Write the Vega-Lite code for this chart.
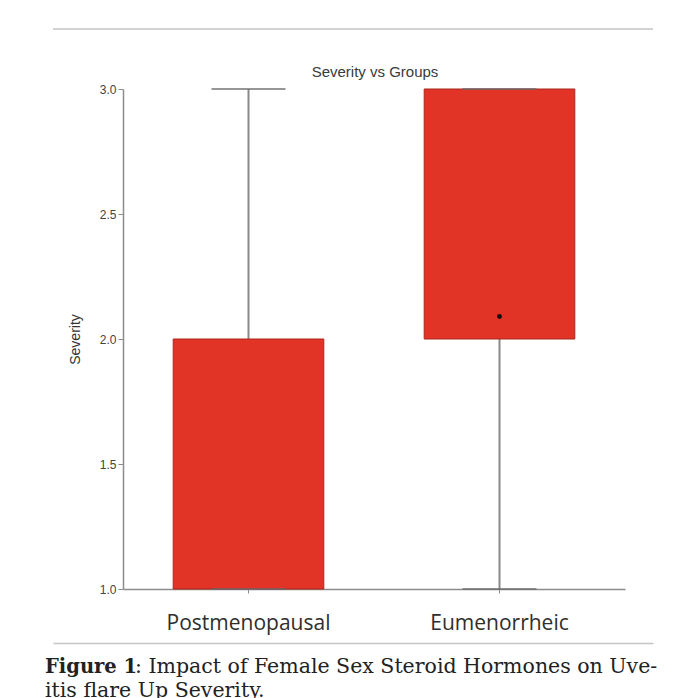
{
  "$schema": "https://vega.github.io/schema/vega-lite/v6.json",
  "background": "white",
  "padding": {"left": 45, "top": 28, "right": 10, "bottom": 0},
  "columns": 1,
  "spacing": 10,
  "config": {"view": {"stroke": null}},
  "datasets": {
    "boxes": [
      {"group": "Postmenopausal", "min": 1, "q1": 1, "median": 2, "q3": 2, "max": 3, "mean": null},
      {"group": "Eumenorrheic", "min": 1, "q1": 2, "median": 3, "q3": 3, "max": 3, "mean": 2.09}
    ],
    "caption": [
      {"line": 1, "part": "label", "text": "Figure 1"},
      {"line": 1, "part": "body", "text": ": Impact of Female Sex Steroid Hormones on Uve-"},
      {"line": 2, "part": "body2", "text": "itis flare Up Severity."}
    ],
    "header": [{"line": "top"}]
  },
  "concat": [
    {
      "width": 600,
      "height": 26,
      "data": {"name": "header"},
      "mark": {"type": "rule", "color": "#c4c4c4", "strokeWidth": 1.5},
      "encoding": {
        "y": {"datum": 1, "type": "quantitative", "scale": {"domain": [0, 1]}, "axis": null}
      }
    },
    {
      "width": 600,
      "height": 500,
      "title": {"text": "Severity vs Groups", "font": "Liberation Sans", "fontSize": 15, "fontWeight": "normal", "color": "#3a3a3a", "offset": 3, "anchor": "middle", "dx": 22},
      "data": {"name": "boxes"},
      "encoding": {
        "x": {
          "field": "group", "type": "nominal", "sort": ["Postmenopausal", "Eumenorrheic"],
          "scale": {"paddingInner": 0.4, "paddingOuter": 0.2, "range": [70, 572]},
          "axis": {"title": null, "labelAngle": 0, "labelFont": "Open Sans", "labelFontSize": 21, "labelColor": "#2e2e2e", "labelPadding": 19, "domainColor": "#8c8c8c", "domainWidth": 1.5, "tickColor": "#8c8c8c", "tickSize": 4, "grid": false}
        }
      },
      "layer": [
        {
          "mark": {"type": "rule", "color": "#8a8a8a", "strokeWidth": 2},
          "encoding": {
            "y": {"field": "min", "type": "quantitative", "title": "Severity",
              "scale": {"domain": [1, 3], "nice": false, "zero": false},
              "axis": {"title": "Severity", "offset": -70, "values": [1, 1.5, 2, 2.5, 3], "format": ".1f", "grid": false, "domainColor": "#8c8c8c", "domainWidth": 1.5, "tickColor": "#8c8c8c", "tickSize": 5, "labelFont": "Liberation Sans", "labelFontSize": 12, "labelColor": "#444444", "labelPadding": 2, "titleFont": "Liberation Sans", "titleFontSize": 14, "titleFontWeight": "normal", "titleColor": "#333333", "titlePadding": 17}},
            "y2": {"field": "max"}
          }
        },
        {
          "mark": {"type": "bar", "color": "#e23327", "stroke": "#a8281f", "strokeWidth": 1},
          "encoding": {
            "y": {"field": "q1", "type": "quantitative", "title": "Severity"},
            "y2": {"field": "q3"}
          }
        },
        {
          "mark": {"type": "tick", "color": "#6a6a6a", "size": 74, "thickness": 2},
          "encoding": {"y": {"field": "max", "type": "quantitative", "title": "Severity"}}
        },
        {
          "mark": {"type": "tick", "color": "#6a6a6a", "size": 74, "thickness": 2},
          "encoding": {"y": {"field": "min", "type": "quantitative", "title": "Severity"}}
        },
        {
          "mark": {"type": "point", "filled": true, "color": "#111111", "size": 24, "opacity": 1},
          "encoding": {"y": {"field": "mean", "type": "quantitative", "title": "Severity"}}
        }
      ]
    },
    {
      "width": 600,
      "height": 72,
      "data": {"name": "caption"},
      "encoding": {
        "x": {"datum": 0, "type": "quantitative", "scale": {"domain": [0, 1]}, "axis": {"orient": "top", "labels": false, "ticks": false, "grid": false, "title": null, "domainColor": "#c4c4c4", "domainWidth": 1.5}},
        "y": {"field": "line", "type": "ordinal", "scale": {"type": "point", "padding": 1}, "axis": null},
        "text": {"field": "text"}
      },
      "layer": [
        {
          "transform": [{"filter": "datum.part == 'label'"}],
          "mark": {"type": "text", "align": "left", "baseline": "middle", "dx": -8, "font": "DejaVu Serif", "fontSize": 19.5, "fontWeight": "bold", "color": "#222222"}
        },
        {
          "transform": [{"filter": "datum.part == 'body'"}],
          "mark": {"type": "text", "align": "left", "baseline": "middle", "dx": 82, "font": "DejaVu Serif", "fontSize": 20.5, "color": "#222222"}
        },
        {
          "transform": [{"filter": "datum.part == 'body2'"}],
          "mark": {"type": "text", "align": "left", "baseline": "middle", "dx": -8, "font": "DejaVu Serif", "fontSize": 20.5, "color": "#222222"}
        }
      ]
    }
  ]
}
